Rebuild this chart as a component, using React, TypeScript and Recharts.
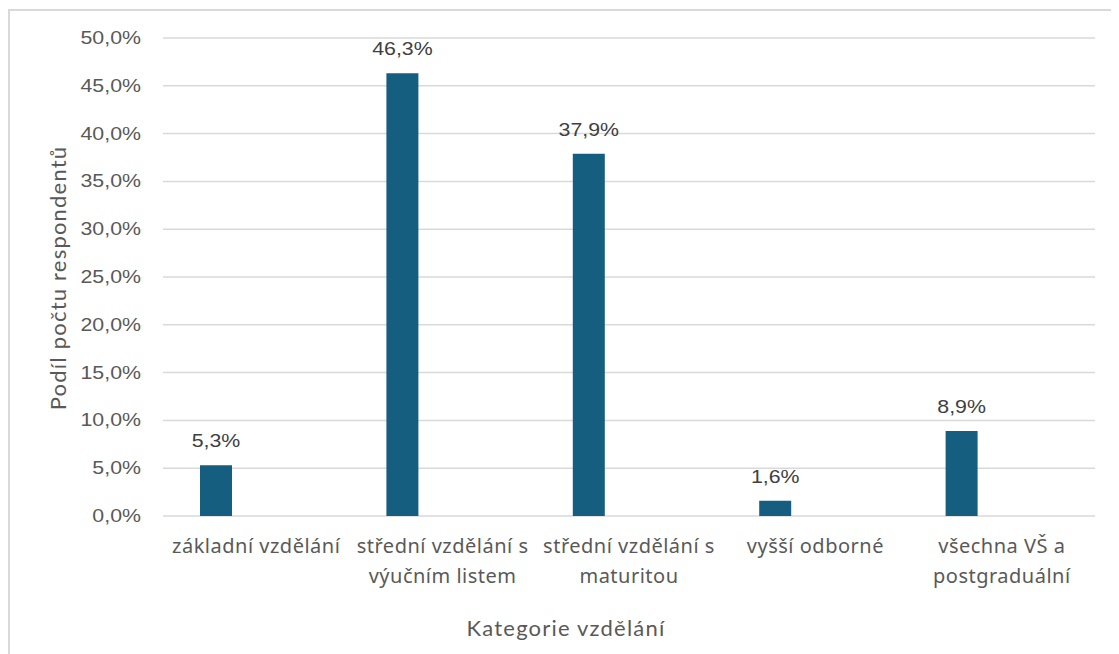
import React from 'react';
import { BarChart, Bar, XAxis, YAxis, CartesianGrid, LabelList } from 'recharts';

const categories = [
  'základní vzdělání',
  'střední vzdělání s výučním listem',
  'střední vzdělání s maturitou',
  'vyšší odborné',
  'všechna VŠ a postgraduální',
];
const shares = [5.3, 46.3, 37.9, 1.6, 8.9];
// Excel chart had an empty second series, which pushes the bars to the left of each slot
const emptySeries = [null, null, null, null, null];
const yTicks = [0, 5, 10, 15, 20, 25, 30, 35, 40, 45, 50];

const data = categories.map((name, i) => ({ name, share: shares[i], empty: emptySeries[i] }));

const fmt = (v: number) => `${v.toFixed(1).replace('.', ',')}%`;

const wrap = (s: string, max = 20) => {
  const lines: string[] = [];
  let cur = '';
  s.split(' ').forEach((w) => {
    if (cur && (cur + ' ' + w).length > max) {
      lines.push(cur);
      cur = w;
    } else {
      cur = cur ? cur + ' ' + w : w;
    }
  });
  if (cur) lines.push(cur);
  return lines;
};

function YTick({ x, y, payload }: any) {
  return (
    <g transform={`translate(${x},${y})`}>
      <text transform="scale(1.22,1)" textAnchor="end" dy={6} fill="#595959" fontSize={17.5} fontFamily="'Liberation Sans', Arial">
        {fmt(payload.value)}
      </text>
    </g>
  );
}

function XTick({ x, y, payload }: any) {
  return (
    <g transform={`translate(${x},${y})`}>
      {wrap(payload.value).map((line, i) => (
        <text
          key={i}
          textAnchor="middle"
          y={29 + i * 30}
          fill="#595959"
          fontSize={20}
          letterSpacing={0.5}
          fontFamily="'Noto Sans'"
        >
          {line}
        </text>
      ))}
    </g>
  );
}

function BarValue({ x, y, width, value }: any) {
  if (value == null) return null;
  return (
    <g transform={`translate(${x + width / 2},${y - 18})`}>
      <text transform="scale(1.22,1)" textAnchor="middle" fill="#404040" fontSize={17.5} fontFamily="'Liberation Sans', Arial">
        {fmt(value)}
      </text>
    </g>
  );
}

const titleStyle: React.CSSProperties = {
  position: 'absolute',
  whiteSpace: 'nowrap',
  fontFamily: 'Lato',
  fontSize: 22,
  letterSpacing: 1.2,
  color: '#595959',
};

export default function App() {
  return (
    <div style={{ position: 'relative', width: 1111, height: 646, background: '#fff' }}>
      <div
        style={{
          position: 'absolute',
          top: 1,
          left: 0,
          width: 1111,
          height: 645,
          borderTop: '2px solid #d9d9d9',
          borderLeft: '2px solid #d9d9d9',
          boxSizing: 'border-box',
        }}
      />
      <div style={{ position: 'absolute', top: 0, left: 0 }}>
        <BarChart
          width={1111}
          height={646}
          data={data}
          margin={{ top: 30, right: 24, left: 55, bottom: 68 }}
          barSize={32}
          barGap={48}
        >
          <CartesianGrid vertical={false} stroke="#d9d9d9" strokeWidth={1.5} />
          <XAxis dataKey="name" axisLine={false} tickLine={false} tickMargin={2} height={70} interval={0} tick={<XTick />} />
          <YAxis
            width={100}
            domain={[0, 50]}
            ticks={yTicks}
            axisLine={false}
            tickLine={false}
            tickMargin={16}
            tick={<YTick />}
          />
          <Bar dataKey="share" fill="#165e80" isAnimationActive={false}>
            <LabelList dataKey="share" content={<BarValue />} />
          </Bar>
          <Bar dataKey="empty" fill="#165e80" isAnimationActive={false} legendType="none" />
        </BarChart>
      </div>
      <div style={{ ...titleStyle, left: 49, top: 270, transform: 'translate(-50%, -50%) rotate(-90deg)' }}>
        Podíl počtu respondentů
      </div>
      <div style={{ ...titleStyle, left: 558, top: 619, transform: 'translate(-50%, -50%)' }}>
        Kategorie vzdělání
      </div>
    </div>
  );
}
